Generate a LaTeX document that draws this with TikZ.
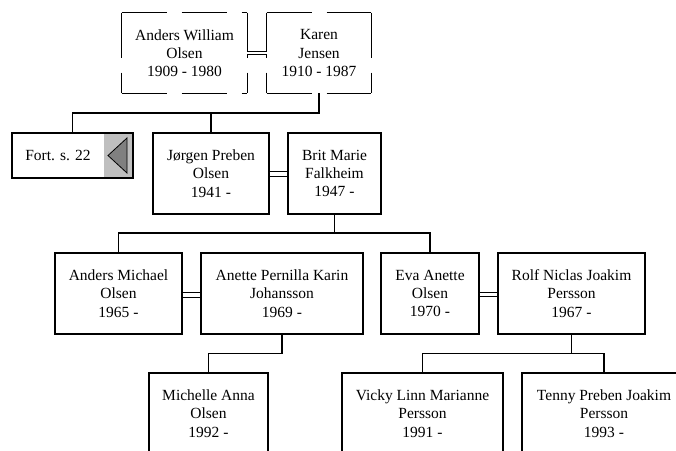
\documentclass[tikz,border=0pt]{standalone}
\usepackage{fontspec}
\setmainfont{Liberation Serif}
\begin{document}
\begin{tikzpicture}[x=1pt,y=-1pt,
  txt/.style={align=center, font=\fontsize{15.5}{18.3}\selectfont, inner sep=0pt},
  person/.style={txt, draw, line width=1.5pt, minimum height=81pt},
  elder/.style={txt, line width=0.8pt, minimum height=80pt},
  elderline/.style={line width=0.8pt, dash pattern=on 45pt off 15pt},
  link/.style={line width=1.5pt},
  couple/.style={double, line width=1.2pt, double distance=3.5pt},
  eldercouple/.style={double, line width=0.7pt, double distance=2.6pt},
  ]
\fill[white] (0,0) rectangle (676,450);
\useasboundingbox (0,0) rectangle (676,450);
% levels of the connector bars
\coordinate (bar1) at (0,113);
\coordinate (bar2) at (0,233);
\coordinate (bar3) at (0,353.5);
% generation 1 (dashed boxes, each side dashed from its start corner)
\node[elder, minimum width=125pt] (aw) at (184.5,53) {Anders William\\Olsen\\1909 - 1980};
\node[elder, minimum width=104pt] (kj) at (319,53) {Karen\\Jensen\\1910 - 1987};
\foreach \n in {aw,kj}{
  \draw[elderline] (\n.north west) -- (\n.north east);
  \draw[elderline] (\n.north west) -- (\n.south west);
  \draw[elderline] (\n.north east) -- (\n.south east);
  \draw[elderline] (\n.south west) -- (\n.south east);
}
% generation 2
\node[txt, draw, line width=1.5pt, minimum width=121pt, minimum height=45pt,
  path picture={
    \fill[black!25] ([xshift=-29pt]path picture bounding box.north east) rectangle (path picture bounding box.south east);
    \filldraw[fill=black!50, draw=black, line width=0.8pt]
      ([xshift=-25pt]path picture bounding box.east) --
      ([xshift=-6pt,yshift=17.5pt]path picture bounding box.east) --
      ([xshift=-6pt,yshift=-17.5pt]path picture bounding box.east) -- cycle;
  }] (fort) at (72.5,155.5) {Fort. s. 22\hspace*{29pt}};
\node[person, minimum width=116pt] (jorgen) at (211,173.5) {Jørgen Preben\\Olsen\\1941 -};
\node[person, minimum width=93pt] (brit) at (334.5,173.5) {Brit Marie\\Falkheim\\1947 -};
% generation 3
\node[person, minimum width=127pt] (am) at (118.5,293.5) {Anders Michael\\Olsen\\1965 -};
\node[person, minimum width=162pt] (ap) at (282,293.5) {Anette Pernilla Karin\\Johansson\\1969 -};
\node[person, minimum width=98pt] (eva) at (430,293.5) {Eva Anette\\Olsen\\1970 -};
\node[person, minimum width=147pt] (rolf) at (571.5,293.5) {Rolf Niclas Joakim\\Persson\\1967 -};
% generation 4
\node[person, minimum width=119pt] (michelle) at (208.5,413.5) {Michelle Anna\\Olsen\\1992 -};
\node[person, minimum width=161pt] (vicky) at (422.5,413.5) {Vicky Linn Marianne\\Persson\\1991 -};
\node[person, minimum width=164pt] (tenny) at (604,413.5) {Tenny Preben Joakim\\Persson\\1993 -};
% couples
\draw[eldercouple] (aw.east) -- (kj.west);
\draw[couple] ([yshift=-0.7pt]jorgen.east) -- ([yshift=-0.7pt]brit.west);
\draw[couple] ([yshift=-1.5pt]am.east) -- ([yshift=-1.5pt]ap.west);
\draw[couple] ([yshift=-1pt]eva.east) -- ([yshift=-1pt]rolf.west);
% descent
\draw[link] (kj.south) -- (kj.south |- bar1) -| (fort.north);
\draw[link] (jorgen.north) -- (jorgen.north |- bar1);
\draw[link] (brit.south) -- (brit.south |- bar2);
\draw[link] (am.north) -- (am.north |- bar2) -- (eva.north |- bar2) -- (eva.north);
\draw[link] (ap.south) -- (ap.south |- bar3) -| (michelle.north);
\draw[link] (rolf.south) -- (rolf.south |- bar3);
\draw[link] (vicky.north) -- (vicky.north |- bar3) -- (tenny.north |- bar3) -- (tenny.north);
\end{tikzpicture}
\end{document}
